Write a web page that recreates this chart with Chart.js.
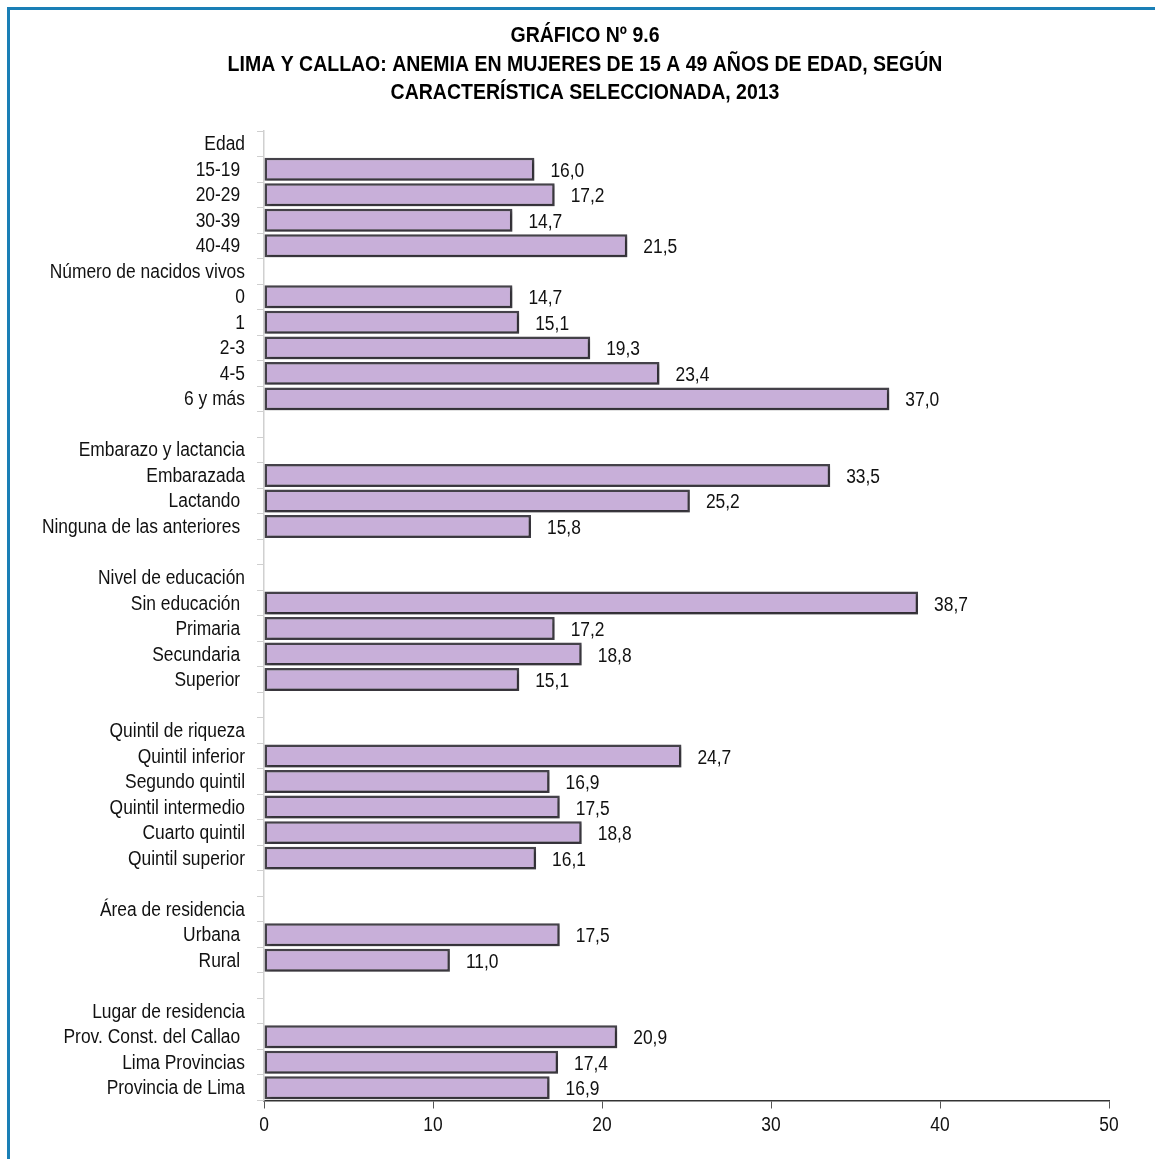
<!DOCTYPE html>
<html>
<head>
<meta charset="utf-8">
<script src="https://cdn.jsdelivr.net/npm/chart.js@4.4.1/dist/chart.umd.min.js"></script>
<style>
  html, body { margin: 0; padding: 0; background: #fff; }
  #wrap { position: relative; width: 1155px; height: 1159px; overflow: hidden; }
  #frame { position: absolute; left: 7px; top: 7px; width: 1200px; height: 1200px;
           border-top: 3px solid #1a7fb6; border-left: 3px solid #1a7fb6; }
  canvas { position: absolute; left: 0; top: 0; }
</style>
</head>
<body>
<div id="wrap">
  <div id="frame"></div>
  <canvas id="chart" width="1155" height="1159"></canvas>
</div>
<script>
// row labels (headers and blank rows have no bar)
var labels = [
  'Edad', '15-19 ', '20-29 ', '30-39 ', '40-49 ',
  'Número de nacidos vivos', '0', '1', '2-3', '4-5', '6 y más', '',
  'Embarazo y lactancia', 'Embarazada', 'Lactando ', 'Ninguna de las anteriores ', '',
  'Nivel de educación', 'Sin educación ', 'Primaria ', 'Secundaria ', 'Superior ', '',
  'Quintil de riqueza', 'Quintil inferior', 'Segundo quintil', 'Quintil intermedio', 'Cuarto quintil', 'Quintil superior', '',
  'Área de residencia', 'Urbana ', 'Rural ', '',
  'Lugar de residencia', 'Prov. Const. del Callao ', 'Lima Provincias', 'Provincia de Lima'
];
var values = [
  null, 16.0, 17.2, 14.7, 21.5,
  null, 14.7, 15.1, 19.3, 23.4, 37.0, null,
  null, 33.5, 25.2, 15.8, null,
  null, 38.7, 17.2, 18.8, 15.1, null,
  null, 24.7, 16.9, 17.5, 18.8, 16.1, null,
  null, 17.5, 11.0, null,
  null, 20.9, 17.4, 16.9
];
var titleLines = [
  'GRÁFICO Nº 9.6',
  'LIMA Y CALLAO: ANEMIA EN MUJERES DE 15 A 49 AÑOS DE EDAD, SEGÚN',
  'CARACTERÍSTICA SELECCIONADA, 2013'
];
var xTicks = [0, 10, 20, 30, 40, 50];

var fontFam = "'Liberation Sans', Arial, sans-serif";
var narrow = 0.87;   // no narrow face installed, squeeze the regular one

// text squeezed horizontally, anchored at (x, y)
function narrowText(ctx, txt, x, y, align, font, sx) {
  ctx.save();
  ctx.font = font;
  ctx.textAlign = align;
  ctx.textBaseline = 'middle';
  ctx.translate(x, y);
  ctx.scale(sx, 1);
  ctx.fillText(txt, 0, 0);
  ctx.restore();
}

// soft shadow under the bars
var barShadow = {
  id: 'barShadow',
  beforeDatasetsDraw: function(chart) {
    var ctx = chart.ctx;
    ctx.save();
    ctx.shadowColor = 'rgba(0,0,0,0.35)';
    ctx.shadowOffsetX = 2;
    ctx.shadowOffsetY = 2;
    ctx.shadowBlur = 3;
  },
  afterDatasetsDraw: function(chart) {
    chart.ctx.restore();
  }
};

// title, axis labels and value labels
var texts = {
  id: 'texts',
  afterDraw: function(chart) {
    var ctx = chart.ctx;
    var ys = chart.scales.y, xs = chart.scales.x;
    ctx.fillStyle = '#000';
    titleLines.forEach(function(t, i) {
      narrowText(ctx, t, 585, 36 + i * 28.5, 'center', 'bold 22px ' + fontFam, 0.886);
    });
    ctx.fillStyle = '#111';
    labels.forEach(function(l, i) {
      narrowText(ctx, l, ys.left + ys.width - 19, ys.getPixelForTick(i) + 1, 'right', '20px ' + fontFam, narrow);
    });
    xTicks.forEach(function(v) {
      narrowText(ctx, String(v), xs.getPixelForValue(v), chart.chartArea.bottom + 25, 'center', '20px ' + fontFam, narrow);
    });
    var meta = chart.getDatasetMeta(0);
    meta.data.forEach(function(bar, i) {
      var v = values[i];
      if (v === null) return;
      narrowText(ctx, v.toFixed(1).replace('.', ','), bar.x + 16, bar.y + 2, 'left', '20px ' + fontFam, narrow);
    });
  }
};

var ctx = document.getElementById('chart').getContext('2d');
new Chart(ctx, {
  type: 'bar',
  data: {
    labels: labels,
    datasets: [{
      data: values,
      backgroundColor: '#c8afd9',
      borderColor: '#45424a',
      borderWidth: 2.5,
      borderSkipped: false,
      categoryPercentage: 1.0,
      barPercentage: 0.9
    }]
  },
  options: {
    indexAxis: 'y',
    responsive: false,
    animation: false,
    layout: { padding: { left: 0, right: 46, top: 131, bottom: 0 } },
    plugins: {
      legend: { display: false },
      tooltip: { enabled: false },
      title: { display: false }
    },
    scales: {
      x: {
        min: 0,
        max: 50,
        afterBuildTicks: function(s) { s.ticks = xTicks.map(function(v) { return { value: v }; }); },
        afterFit: function(s) { s.height = 58.5; },
        border: { display: true, color: '#333', width: 1.5 },
        grid: { drawOnChartArea: false, drawTicks: true, tickLength: 8, color: '#555' },
        ticks: { display: false }
      },
      y: {
        afterFit: function(s) { s.width = 264; },
        border: { display: true, color: '#d0d0d0', width: 1.5 },
        grid: { drawOnChartArea: false, drawTicks: true, tickLength: 7, color: '#cfcfcf', offset: true },
        ticks: { display: false, autoSkip: false }
      }
    }
  },
  plugins: [barShadow, texts]
});
</script>
</body>
</html>
